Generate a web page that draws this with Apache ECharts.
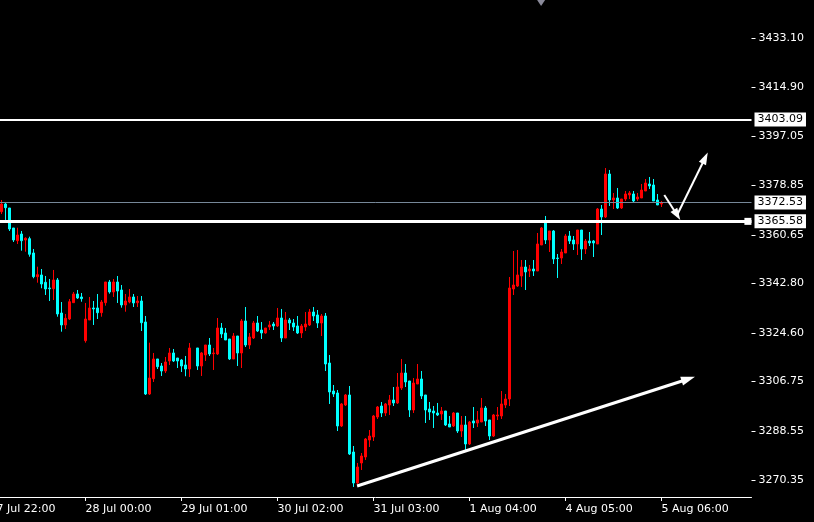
<!DOCTYPE html>
<html>
<head>
<meta charset="utf-8">
<script src="https://cdn.jsdelivr.net/npm/echarts@6/dist/echarts.min.js"></script>
<style>html,body{margin:0;padding:0;background:#000;}#c{width:814px;height:522px;}</style>
</head>
<body>
<div id="c"></div>
<script>
// H1 candles: [open, close, low, high]; '-' = missing bar
const candles = [
[3369.14,3371.98,3368.30,3373.45],[3371.98,3370.62,3366.09,3372.71],[3370.50,3362.77,3362.04,3370.50],[3363.14,3358.72,3357.99,3363.14],
[3358.46,3360.56,3357.25,3363.25],[3360.93,3358.46,3354.78,3362.04],[3358.72,3359.35,3354.41,3359.72],[3359.20,3353.46,3352.57,3359.94],
[3353.94,3345.21,3344.62,3355.41],[3345.21,3345.95,3343.00,3348.89],[3345.84,3342.52,3340.94,3348.04],[3343.15,3340.68,3338.47,3345.47],
[3341.05,3340.79,3336.26,3344.36],[3340.79,3344.00,3336.63,3347.68],[3344.00,3331.48,3330.48,3344.73],[3331.84,3327.43,3324.96,3335.89],
[3327.43,3329.89,3325.95,3331.48],[3329.63,3336.00,3329.27,3337.00],[3335.64,3338.84,3335.64,3339.58],[3338.84,3337.37,3337.00,3340.31],
[3337.74,3337.11,3336.00,3339.21],[3321.64,3329.63,3320.91,3335.53],[3329.27,3333.69,3329.27,3337.74],[3333.69,3333.32,3327.43,3336.26],
[3333.69,3331.95,3329.63,3338.84],[3331.95,3335.89,3330.48,3336.63],[3335.64,3343.26,3334.53,3343.26],[3343.26,3339.58,3338.95,3344.00],
[3339.58,3343.26,3337.74,3344.36],[3343.26,3339.94,3335.53,3345.47],[3340.31,3334.79,3333.80,3342.15],[3334.79,3336.26,3332.32,3338.84],
[3335.89,3337.74,3335.41,3340.68],[3337.74,3335.53,3334.05,3338.84],[3335.64,3336.26,3334.05,3338.10],[3336.26,3328.27,3325.21,3338.10],
[3328.53,3302.02,3301.65,3330.74],[3302.02,3307.91,3301.65,3320.91],[3307.65,3314.91,3306.44,3317.12],[3314.91,3312.07,3311.22,3314.91],
[3312.33,3310.49,3308.65,3313.43],[3310.49,3313.80,3309.75,3315.64],[3314.17,3317.12,3312.70,3318.96],[3317.12,3314.17,3313.80,3318.59],
[3315.27,3314.17,3311.59,3315.27],[3314.54,3312.33,3310.12,3314.91],[3312.70,3311.22,3308.54,3316.01],[3311.22,3318.96,3308.28,3320.80],
'-',
[3318.96,3312.33,3310.86,3318.96],[3312.33,3317.12,3308.65,3317.49],[3316.38,3320.06,3314.17,3320.06],[3320.06,3316.75,3316.01,3322.64],
[3316.86,3317.12,3310.86,3318.96],[3316.75,3326.32,3316.38,3330.00],[3326.32,3324.11,3322.64,3328.16],[3324.48,3321.90,3321.90,3326.32],
[3322.27,3314.91,3314.54,3322.27],[3314.91,3323.37,3314.91,3324.48],[3323.37,3317.12,3312.33,3323.37],[3317.12,3328.90,3311.59,3329.63],
[3328.90,3320.06,3319.32,3334.05],[3320.06,3323.01,3318.59,3324.48],[3322.64,3328.16,3322.27,3328.90],[3328.16,3325.22,3324.85,3330.74],
[3325.58,3324.48,3322.27,3328.53],[3324.48,3326.32,3324.22,3326.32],[3326.69,3327.43,3325.58,3328.90],[3327.79,3327.06,3325.58,3328.53],
[3327.06,3330.00,3326.69,3333.69],[3330.00,3322.64,3321.17,3333.32],[3322.64,3329.27,3322.64,3332.21],[3329.27,3328.16,3325.58,3330.00],
[3328.16,3326.69,3325.22,3329.63],[3327.06,3324.48,3324.11,3330.74],[3324.48,3327.06,3322.64,3327.79],[3326.69,3327.79,3325.22,3332.21],
[3327.43,3332.21,3327.06,3333.32],[3332.21,3330.74,3328.90,3334.05],[3331.11,3328.16,3326.32,3332.95],[3328.16,3330.74,3323.37,3331.48],
[3330.74,3313.06,3310.49,3331.84],[3313.43,3302.76,3298.34,3316.38],[3303.12,3302.02,3300.92,3305.33],[3302.39,3290.24,3288.39,3303.49],
[3290.24,3298.34,3289.87,3298.71],[3297.97,3301.65,3297.60,3302.02],[3301.65,3279.93,3279.56,3304.96],[3280.66,3269.25,3267.78,3282.87],
[3269.25,3275.14,3268.88,3276.61],[3276.61,3279.19,3274.04,3280.29],[3278.82,3285.45,3277.72,3285.82],[3285.08,3286.55,3282.50,3288.76],
[3286.19,3293.92,3284.71,3294.29],[3293.55,3297.23,3292.81,3297.60],[3297.60,3295.02,3293.55,3299.07],[3295.02,3298.34,3293.92,3298.71],
[3297.97,3299.81,3294.29,3301.65],[3299.81,3298.71,3297.60,3304.59],[3298.71,3304.59,3298.34,3309.75],[3304.23,3309.75,3303.49,3314.91],
[3309.75,3306.44,3304.59,3313.06],[3306.81,3296.13,3293.55,3306.81],[3296.13,3306.07,3295.02,3307.91],[3305.70,3307.54,3305.70,3313.06],
[3307.54,3301.28,3300.18,3310.49],[3301.65,3296.13,3291.34,3301.65],[3296.50,3295.39,3292.45,3299.07],[3295.76,3295.02,3289.50,3297.60],
[3295.02,3294.29,3293.92,3298.71],[3294.66,3295.76,3292.45,3297.23],[3295.76,3290.61,3290.24,3295.76],[3290.97,3289.87,3289.87,3293.92],
[3290.24,3295.02,3289.87,3295.39],[3295.02,3288.39,3287.66,3295.02],[3288.39,3290.61,3286.19,3293.92],[3290.61,3283.61,3281.40,3293.92],
[3283.61,3291.71,3283.24,3292.08],[3292.08,3291.34,3289.50,3297.23],[3291.34,3292.45,3289.87,3295.76],[3291.71,3296.86,3291.71,3300.55],
[3296.86,3292.08,3290.24,3297.60],[3292.45,3286.55,3285.08,3292.45],[3286.55,3294.29,3286.19,3294.66],[3293.92,3294.29,3292.45,3297.23],
[3293.92,3298.34,3292.81,3303.12],[3297.97,3300.18,3296.86,3302.02],[3300.18,3341.05,3297.60,3345.10],[3340.68,3342.15,3338.47,3354.67],
[3341.78,3345.84,3341.42,3355.04],[3345.47,3348.78,3341.42,3351.36],[3348.78,3346.94,3340.31,3351.36],[3347.31,3348.04,3345.10,3349.52],
[3348.04,3347.31,3345.47,3351.36],[3347.31,3357.25,3347.31,3361.30],[3356.88,3363.14,3356.88,3363.51],[3365.35,3358.72,3357.25,3367.56],
[3358.72,3362.04,3354.30,3362.04],[3362.04,3351.73,3349.89,3362.40],[3352.09,3351.91,3344.73,3353.57],[3352.09,3354.30,3349.89,3355.41],
[3353.94,3360.19,3353.94,3360.93],[3360.19,3358.35,3357.25,3362.04],[3358.72,3357.25,3355.04,3360.19],[3357.25,3362.40,3353.20,3362.40],
[3362.40,3355.41,3351.36,3362.40],[3355.41,3358.35,3353.57,3359.09],[3358.35,3357.62,3356.51,3361.67],[3358.35,3357.62,3352.46,3358.72],
[3357.25,3370.14,3357.25,3370.50],[3370.14,3367.19,3360.56,3371.61],[3367.19,3383.02,3366.82,3385.23],[3383.02,3373.45,3371.24,3384.50],
[3373.45,3374.19,3370.14,3376.03],[3374.19,3370.50,3370.14,3377.87],[3370.50,3373.82,3370.14,3373.82],[3373.82,3375.66,3373.08,3376.76],
[3375.29,3376.03,3373.82,3376.76],[3375.66,3373.08,3372.71,3376.76],[3373.82,3374.55,3373.08,3376.03],[3374.19,3377.13,3374.19,3379.34],
[3376.76,3379.71,3376.76,3381.18],[3379.34,3378.60,3377.50,3381.92],[3378.97,3373.08,3373.08,3381.18],[3373.45,3371.61,3371.61,3375.66],
[3371.98,3372.53,3370.87,3373.08]
];
// time axis labels, one every 24 bars; the first one lies 3 bars before the first visible candle
const timeLabels = ['27 Jul 22:00','28 Jul 00:00','29 Jul 01:00','30 Jul 02:00','31 Jul 03:00','1 Aug 04:00','4 Aug 05:00','5 Aug 06:00'];
const LABEL_STEP = 24;
const LEAD_BARS = 3;
const TOTAL_SLOTS = 191;
// price scale tick labels (MT4 style)
const yTicks = [3270.35,3288.55,3306.75,3324.60,3342.80,3360.65,3378.85,3397.05,3414.90,3433.10];
const yMin = 3264.09, yMax = 3447.09;
// horizontal levels
const resistance = 3403.09;
const bidPrice = 3372.53;
const support = 3365.58;
// hand-drawn arrows in [bar slot, price]
const arrowTrend = [[91.9, 3268.14],[174.7, 3307.54]];
const arrowDown = [[168.7, 3375.29],[171.9, 3367.93]];
const arrowUp = [[171.9, 3367.93],[178.9, 3388.91]];
// anchor square of the support line and the small marker at the top, [bar slot, price]
const supportAnchor = [189.6, 3365.58];
const topMarker = [137.9, 3446.0];

const categories = [];
for (let i = 0; i < TOTAL_SLOTS; i++) {
  const li = i / LABEL_STEP;
  categories.push(i % LABEL_STEP === 0 && li < timeLabels.length ? timeLabels[li] : ('s' + i));
}
const seriesData = [];
for (let i = 0; i < TOTAL_SLOTS; i++) {
  const k = i - LEAD_BARS;
  seriesData.push(k >= 0 && k < candles.length ? candles[k] : '-');
}
const showLabel = (idx) => idx % LABEL_STEP === 0 && idx / LABEL_STEP < timeLabels.length;
const FONT = '"DejaVu Sans", Tahoma, sans-serif';

const chart = echarts.init(document.getElementById('c'), null, {renderer: 'canvas'});
const levelLabel = {
  show: true, position: 'end', distance: 3,
  formatter: p => p.value.toFixed(2),
  color: '#000', backgroundColor: '#fff',
  padding: [2, 3, 1, 3], fontSize: 11, fontFamily: FONT
};
chart.setOption({
  backgroundColor: '#000',
  animation: false,
  grid: {left: -12.5, right: 62.5, top: 0, bottom: 25, outerBoundsMode: 'none', containLabel: false},
  xAxis: [{
    type: 'category', data: categories, boundaryGap: true,
    axisLine: {show: true, lineStyle: {color: '#fff', width: 1}},
    axisTick: {show: true, alignWithLabel: true, interval: showLabel, length: 4, lineStyle: {color: '#fff'}},
    axisLabel: {show: true, interval: showLabel, align: 'left', margin: 7, color: '#fff', fontSize: 11, fontFamily: FONT},
    splitLine: {show: false}
  }, {
    type: 'value', min: -0.5, max: TOTAL_SLOTS - 0.5, show: false
  }],
  yAxis: {
    type: 'value', position: 'right', min: yMin, max: yMax, scale: true,
    axisLine: {show: true, lineStyle: {color: '#fff', width: 1}},
    axisTick: {show: false}, axisLabel: {show: false}, splitLine: {show: false}
  },
  series: [{
    type: 'candlestick',
    data: seriesData,
    barWidth: 2,
    itemStyle: {color: '#ff0000', color0: '#00ffff', borderColor: '#ff0000', borderColor0: '#00ffff', borderWidth: 1},
    markLine: {
      silent: true, symbol: 'none', z: 5,
      data: [
        {yAxis: resistance, lineStyle: {color: '#fff', width: 2, type: 'solid'}, label: levelLabel},
        {yAxis: bidPrice, lineStyle: {color: '#778899', width: 1, type: 'solid'}, label: levelLabel},
        {yAxis: support, lineStyle: {color: '#fff', width: 3, type: 'solid'}, label: levelLabel}
      ]
    }
  }, {
    type: 'line', xAxisIndex: 1, data: [], silent: true,
    markPoint: {
      silent: true, label: {show: false},
      data: [
        {coord: supportAnchor, symbol: 'rect', symbolSize: [7, 7], itemStyle: {color: '#fff'}},
        {coord: topMarker, symbol: 'triangle', symbolRotate: 180, symbolSize: [8, 6], itemStyle: {color: '#8a8a9a'}}
      ]
    },
    markLine: {
      silent: true, symbol: ['none', 'triangle'], label: {show: false},
      data: [
        [{coord: arrowTrend[0], symbolSize: 0}, {coord: arrowTrend[1], symbolSize: [9, 14]}],
        [{coord: arrowDown[0], symbolSize: 0}, {coord: arrowDown[1], symbolSize: [8, 12]}],
        [{coord: arrowUp[0], symbolSize: 0}, {coord: arrowUp[1], symbolSize: [8, 12]}]
      ].map((d, i) => { d[0].lineStyle = {color: '#fff', width: i === 0 ? 3 : 2, type: 'solid'}; return d; }),
      lineStyle: {color: '#fff', width: 3, type: 'solid'}
    }
  }, {
    type: 'custom', xAxisIndex: 1, clip: false, silent: true, z: 1,
    data: yTicks.map(v => [0, v]),
    renderItem: function (params, api) {
      const v = api.value(1);
      const y = Math.round(api.coord([0, v])[1]) + 0.5;
      const x0 = params.coordSys.x + params.coordSys.width;
      return {type: 'group', children: [
        {type: 'line', shape: {x1: x0, y1: y, x2: x0 + 4, y2: y}, style: {stroke: '#fff', lineWidth: 1}},
        {type: 'text', x: x0 + 7, y: y, style: {text: v.toFixed(2), fill: '#fff', fontSize: 11, fontFamily: FONT, verticalAlign: 'middle', align: 'left'}}
      ]};
    }
  }]
});
</script>
</body>
</html>
